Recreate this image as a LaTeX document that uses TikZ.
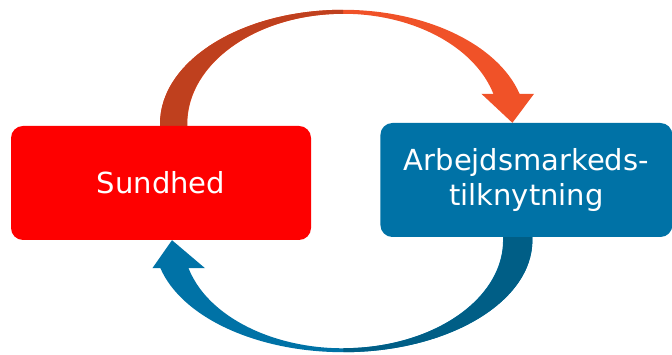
\documentclass[tikz,border=0pt]{standalone}
\usepackage{fontspec}
\setmainfont{DejaVu Sans}
\usetikzlibrary{positioning, calc, backgrounds}
\definecolor{boxred}{HTML}{FE0000}
\definecolor{boxblue}{HTML}{0072A6}
\definecolor{bluedark}{HTML}{005E86}
\definecolor{orangelight}{HTML}{F05228}
\definecolor{orangedark}{HTML}{BF401E}
\tikzset{
    redbox/.style = {rectangle, rounded corners=12pt, minimum width=300pt, minimum height=114pt, text centered, fill=boxred, text=white},
    bluebox/.style = {rectangle, rounded corners=12pt, minimum width=292pt, minimum height=114pt, align=center, fill=boxblue, text=white},
    bigtext/.style = {font=\fontsize{29}{35}\selectfont}
}
\begin{document}
\begin{tikzpicture}[x=1pt, y=1pt, node distance=69pt]
\useasboundingbox (0,0) rectangle (672,355);

% --- BOXES ---
\node (sund) [redbox, bigtext] at (161,172) {Sundhed};
\node (arb) [bluebox, bigtext, right=of sund, yshift=3pt] {Arbejdsmarkeds-\\tilknytning};

% --- CURVED ARROWS ---
\begin{scope}[on background layer]
    % Sundhed -> Arbejdsmarkedstilknytning (over the top)
    \fill[orangelight] ($(sund.north)+(-1,-2)$) -- ++(0,4)
        arc[x radius=183pt, y radius=114pt, start angle=180, end angle=15.26]
        -- ++(14.5,0) -- ($(arb.north)+(-14,0)$) -- ++(-31,29) -- ++(12,0)
        arc[x radius=156pt, y radius=110pt, start angle=15.83, end angle=180]
        -- ++(0,-4) -- cycle;
    \fill[orangedark] ($(sund.north)+(-1,-2)$) -- ++(0,4)
        arc[x radius=183pt, y radius=114pt, start angle=180, end angle=90]
        -- ++(0,-4)
        arc[x radius=156pt, y radius=110pt, start angle=90, end angle=180]
        -- ++(0,-4) -- cycle;

    % Arbejdsmarkedstilknytning -> Sundhed (under the bottom)
    \fill[boxblue] ($(arb.south)+(6,2)$) -- ++(0,-5)
        arc[x radius=189pt, y radius=112pt, start angle=360, end angle=194.48]
        -- ++(-8,0) -- ($(sund.south)+(11,0)$) -- ++(33,-28) -- ++(-16.5,0)
        arc[x radius=160pt, y radius=108pt, start angle=194.99, end angle=360]
        -- ++(0,5) -- cycle;
    \fill[bluedark] ($(arb.south)+(6,2)$) -- ++(0,-5)
        arc[x radius=189pt, y radius=112pt, start angle=360, end angle=270]
        -- ++(0,4)
        arc[x radius=160pt, y radius=108pt, start angle=270, end angle=360]
        -- ++(0,5) -- cycle;
\end{scope}

\end{tikzpicture}
\end{document}
